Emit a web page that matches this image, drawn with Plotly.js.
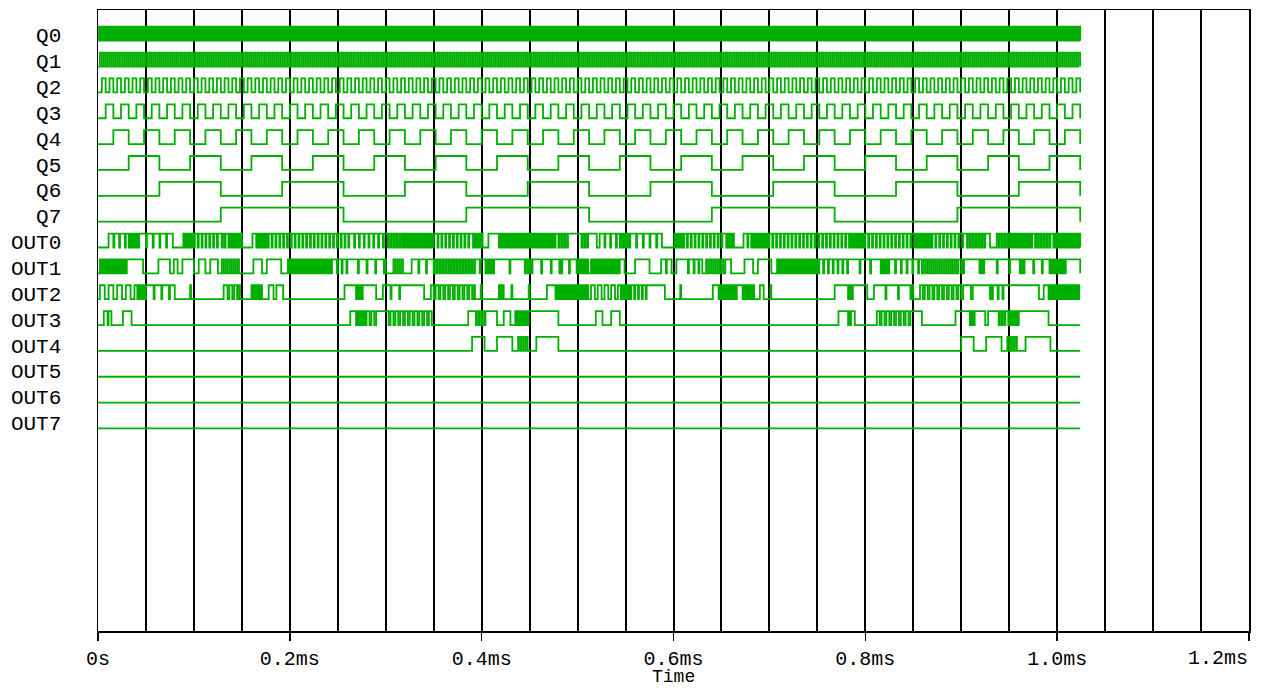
<!DOCTYPE html>
<html>
<head>
<meta charset="utf-8">
<script src="https://cdn.plot.ly/plotly-3.0.1.min.js"></script>
<style>html,body{margin:0;padding:0;background:#fff;}#chart{width:1266px;height:689px;}</style>
</head>
<body>
<div id="chart"></div>
<script>
// ---- data (times in microseconds) ----
const signalNames = ['Q0','Q1','Q2','Q3','Q4','Q5','Q6','Q7','OUT0','OUT1','OUT2','OUT3','OUT4','OUT5','OUT6','OUT7'];
// counter bits: half period of each square wave (us)
const qHalfPeriods = [1, 2, 4, 8, 16, 32, 64, 128];
const endTime = 1024;
const xTickVals = [0, 0.2, 0.4, 0.6, 0.8, 1.0, 1.2];
const xTickText = ['0s', '0.2ms', '0.4ms', '0.6ms', '0.8ms', '1.0ms', '1.2ms'];
const xTitle = 'Time';
// OUT segments: [start, end, highWidth, lowWidth]; lowWidth 0 = steady high, highWidth 0 = steady low
const out0 = [[0,11,0,0],[11,31,5,1],[31,44,1,1],[44,78,6,1],[78,89,0,0],[89,101,1,1],[101,127,3,1],
  [127,135,2,1],[135,150,1,1],[150,161,0,0],[161,166,4,1],[166,178,1,1],[178,263,3,1],
  [263,300,4,1],[300,318,2,1],[318,351,1,1],[351,390,3,1],
  [390,402,1,1],[402,407,0,0],[407,417,10,0],[417,478,1,1],[478,492,2,1],[492,502,10,0],[502,513,2,1],[513,520,7,0],[520,523,0,0],
  [523,543,5,1],[543,555,1,1],[555,588,6,1],[588,601,0,0],[601,611,1,1],[611,654,3,1],
  [654,664,1,1],[664,673,0,0],[673,680,4,1],[680,700,1,1],[700,784,3,1],
  [784,800,1,1],[800,852,3,1],[852,870,1,1],[870,904,3,1],
  [904,925,2,1],[925,930,5,0],[930,937,0,0],[937,950,2,1],[950,975,1,1],[975,995,2,1],[995,1024,1,1]];
const out1 = [[0,2,0,0],[2,31,1,1],[31,47,16,0],[47,63,0,0],[63,75,12,0],[75,79,0,0],[79,83,4,0],[83,88,0,0],[88,100,12,0],[100,105,0,0],[105,112,7,0],[112,117,0,0],[117,125,8,0],[125,129,0,0],
  [129,147,2,2],[147,162,0,0],[162,171,9,0],[171,176,0,0],[176,191,15,0],[191,198,0,0],[198,245,1,1],[245,263,4,1],
  [263,300,8,1],[300,308,0,0],[308,320,2,2],[320,327,0,0],[327,348,7,1],[348,393,2,1],
  [393,405,5,1],[405,414,1,1],[414,447,15,1],[447,453,1,1],[453,480,9,1],[480,485,1,1],[485,498,6,1],[498,511,1,1],[511,514,0,0],
  [514,544,1,1],[544,549,5,0],[549,560,0,0],[560,575,15,0],[575,587,0,0],[587,598,5,1],[598,603,0,0],[603,614,11,0],[614,617,1,1],[617,630,4,1],[630,634,0,0],[634,654,2,2],
  [654,660,6,0],[660,674,0,0],[674,683,9,0],[683,688,0,0],[688,702,14,0],[702,708,0,0],[708,752,1,1],[752,784,4,1],
  [784,815,10,1],[815,826,1,1],[826,857,5,1],[857,899,2,2],[899,903,1,1],[903,918,15,0],
  [918,925,1,1],[925,960,12,1],[960,967,1,1],[967,991,8,1],[991,1009,1,1],[1009,1024,15,0]];
const out2 = [[0,2,0,0],[2,40,5,4],[40,51,1,1],[51,80,7,1],[80,96,0,0],[96,97,1,0],[97,131,0,0],[131,132,1,0],
  [132,148,3,2],[148,160,0,0],[160,172,1,1],[172,178,0,0],[178,183,5,0],[183,186,0,0],[186,193,7,0],[193,257,0,0],[257,268,11,0],
  [268,276,1,1],[276,290,14,0],[290,297,0,0],[297,320,8,1],[320,340,20,0],[340,347,0,0],[347,393,3,2],
  [393,399,0,0],[399,400,1,0],[400,418,0,0],[418,423,1,1],[423,431,0,0],[431,432,1,0],[432,449,0,0],[449,450,1,0],[450,468,0,0],[468,476,8,0],[476,512,1,1],
  [512,514,0,0],[514,544,4,3],[544,556,1,1],[556,575,3,1],[575,591,16,0],[591,607,0,0],[607,608,1,0],[608,641,0,0],[641,646,5,0],[646,660,1,1],
  [660,666,1,1],[666,671,5,0],[671,685,1,1],[685,690,0,0],[690,694,4,0],[694,701,0,0],[701,702,1,0],[702,768,0,0],[768,781,13,0],
  [781,788,1,1],[788,802,14,0],[802,809,0,0],[809,850,12,1],[850,857,0,0],[857,904,3,2],
  [904,910,6,0],[910,912,0,0],[912,929,17,0],[929,934,1,1],[934,944,4,1],[944,981,37,0],[981,986,0,0],[986,990,4,0],[990,1024,1,1]];
const out3 = [[0,6,0,0],[6,10,4,0],[10,11,0,0],[11,14,3,0],[14,26,0,0],[26,35,9,0],[35,263,0,0],
  [263,268,5,0],[268,280,1,1],[280,292,3,2],[292,300,8,0],[300,348,3,2],[348,386,0,0],
  [386,392,6,0],[392,404,2,1],[404,416,12,0],[416,423,0,0],[423,430,7,0],[430,435,0,0],[435,449,1,1],[449,480,31,0],[480,519,0,0],
  [519,526,7,0],[526,535,0,0],[535,544,9,0],[544,772,0,0],
  [772,781,9,0],[781,786,1,1],[786,789,3,0],[789,812,0,0],[812,848,3,2],[848,859,11,0],[859,894,0,0],[894,904,10,0],
  [904,908,4,0],[908,915,1,1],[915,925,10,0],[925,928,0,0],[928,937,9,0],[937,948,2,1],[948,960,1,1],[960,991,31,0],[991,1024,0,0]];
const out4 = [[0,390,0,0],[390,403,13,0],[403,416,0,0],[416,432,16,0],[432,438,0,0],[438,450,2,2],[450,457,0,0],[457,480,23,0],
  [480,900,0,0],[900,913,13,0],[913,926,0,0],[926,942,16,0],[942,948,0,0],[948,960,2,2],[960,967,0,0],[967,993,26,0],[993,1024,0,0]];
const out5 = [[0,1024,0,0]];
const out6 = [[0,1024,0,0]];
const out7 = [[0,1024,0,0]];
const outSegments = [out0,out1,out2,out3,out4,out5,out6,out7];

// ---- build step traces ----
const HIGH = 0.54;       // height of a logic 1 inside one row
const GREEN = 'rgb(0,176,0)';
function clockWave(half){
  const xs=[0], ys=[0]; let lvl=0;
  for(let t=half; t<endTime; t+=half){ lvl^=1; xs.push(t); ys.push(lvl); }
  xs.push(endTime); ys.push(0);
  return [xs, ys];
}
function segWave(segs){
  const xs=[], ys=[];
  segs.forEach(([a,b,hw,lw])=>{
    if(hw===0){ xs.push(a); ys.push(0); }
    else if(lw===0){ xs.push(a); ys.push(1); }
    else { let t=a, lvl=1; while(t<b){ xs.push(t); ys.push(lvl); t += lvl?hw:lw; lvl^=1; } }
  });
  xs.push(endTime); ys.push(0);
  return [xs, ys];
}
const traces=[];
signalNames.forEach((name,i)=>{
  const [xs,ys] = i<8 ? clockWave(qHalfPeriods[i]) : segWave(outSegments[i-8]);
  traces.push({type:'scatter', mode:'lines', name:name,
    x: xs.map(t=>t/1000), y: ys.map(v=>-i + v*HIGH),
    line:{shape:'hv', color:GREEN, width:1.8}, hoverinfo:'skip', showlegend:false});
});

const FONT = {family:'"Courier New", "Liberation Mono", monospace', size:21, color:'#000'};
const XFONT = {family:FONT.family, size:20, color:'#000'};
const lastK = xTickText.length-1;
// every tick label but the last is an axis label; the last one sits inside the frame (right-aligned)
const xTickShown = xTickText.map((s,k)=> k===lastK ? '' : s);
const layout = {
  width:1266, height:689,
  margin:{l:98, r:17, t:10, b:58},
  paper_bgcolor:'#fff', plot_bgcolor:'#fff',
  showlegend:false,
  xaxis:{
    range:[0,1.2], tickmode:'array',
    tickvals:xTickVals, ticktext:xTickShown,
    ticks:'outside', ticklen:8, tickwidth:1.5, tickcolor:'#000',
    showgrid:true, gridcolor:'#000', gridwidth:2,
    minor:{tickmode:'linear', tick0:0, dtick:0.05, showgrid:true, gridcolor:'#000', gridwidth:2, ticks:''},
    showline:true, linecolor:'#000', linewidth:1.5, mirror:true,
    zeroline:false, tickfont:XFONT
  },
  yaxis:{
    range:[-22.836, 1.188], tickmode:'array',
    tickvals: signalNames.map((n,i)=>-i+0.22), ticktext: signalNames,
    ticks:'', ticklabelstandoff:31,
    showgrid:false, zeroline:false,
    showline:true, linecolor:'#000', linewidth:1.5, mirror:true,
    tickfont:FONT
  },
  annotations:[
    {text:xTickText[lastK], x:xTickVals[lastK], xref:'x', xanchor:'right', y:-0.0435, yref:'paper', yanchor:'middle',
     showarrow:false, font:XFONT, borderpad:0},
    {text:xTitle, x:0.5, xref:'paper', xanchor:'center', y:-0.0745, yref:'paper', yanchor:'middle',
     showarrow:false, font:{family:FONT.family, size:18, color:'#000'}, borderpad:0}
  ]
};
Plotly.newPlot('chart', traces, layout, {staticPlot:true, displayModeBar:false});
</script>
</body>
</html>
